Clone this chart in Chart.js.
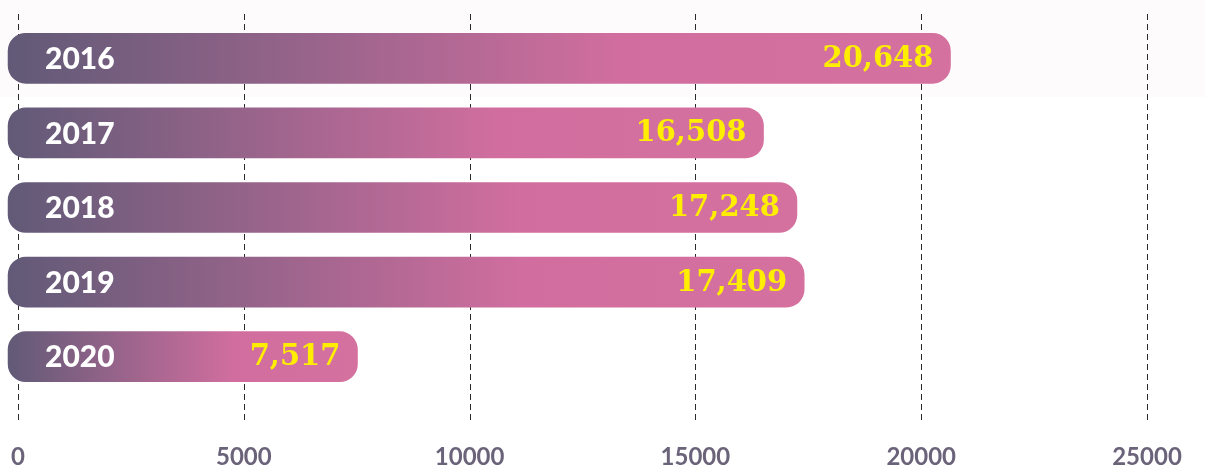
<!DOCTYPE html>
<html>
<head>
<meta charset="utf-8">
<script src="https://cdn.jsdelivr.net/npm/chart.js@4.4.1/dist/chart.umd.min.js"></script>
<style>
  html, body { margin: 0; padding: 0; background: #ffffff; }
  #wrap { width: 1205px; height: 470px; position: relative; }
</style>
</head>
<body>
<div id="wrap"><canvas id="c" width="1205" height="470"></canvas></div>
<script>
const categories = ['2016', '2017', '2018', '2019', '2020'];
const values = [20648, 16508, 17248, 17409, 7517];
const valueLabels = ['20,648', '16,508', '17,248', '17,409', '7,517'];
const tickValues = [0, 5000, 10000, 15000, 20000, 25000];

const BAR_BASE = -220;

function barGradient(c) {
  const chart = c.chart;
  const { ctx, chartArea } = chart;
  if (!chartArea) return '#a0668a';
  const xs = chart.scales.x;
  const x0 = xs.getPixelForValue(BAR_BASE);
  const x1 = xs.getPixelForValue(c.raw);
  const g = ctx.createLinearGradient(x0, 0, x1, 0);
  g.addColorStop(0, '#615a77');
  g.addColorStop(0.65, '#d16e9f');
  g.addColorStop(1, '#d5719f');
  return g;
}

const bandPlugin = {
  id: 'topBand',
  beforeDraw(chart) {
    const { ctx } = chart;
    ctx.save();
    ctx.fillStyle = '#fdfbfc';
    ctx.fillRect(0, 0, chart.width, 97);
    ctx.restore();
  }
};

const gridPlugin = {
  id: 'dashedGrid',
  beforeDatasetsDraw(chart) {
    const { ctx } = chart;
    const xs = chart.scales.x;
    ctx.save();
    ctx.strokeStyle = '#2b2b2b';
    ctx.lineWidth = 1;
    ctx.setLineDash([6, 4]);
    xs.ticks.forEach(t => {
      const px = Math.round(xs.getPixelForValue(t.value)) + 0.5;
      ctx.beginPath();
      ctx.moveTo(px, 14);
      ctx.lineTo(px, 424);
      ctx.stroke();
    });
    ctx.restore();
  }
};

const labelPlugin = {
  id: 'barLabels',
  afterDatasetsDraw(chart) {
    const { ctx } = chart;
    const meta = chart.getDatasetMeta(0);
    ctx.save();
    ctx.textBaseline = 'middle';
    meta.data.forEach((bar, i) => {
      const left = Math.min(bar.x, bar.base);
      const right = Math.max(bar.x, bar.base);
      ctx.fillStyle = '#ffffff';
      ctx.textAlign = 'left';
      ctx.font = '900 30px Lato';
      ctx.fillText(categories[i], left + 37, bar.y + 1);
      ctx.fillStyle = '#ffee00';
      ctx.textAlign = 'right';
      ctx.font = 'bold 29px "DejaVu Serif"';
      ctx.fillText(valueLabels[i], right - 17, bar.y + 1);
    });
    ctx.restore();
  }
};

new Chart(document.getElementById('c'), {
  type: 'bar',
  data: {
    labels: categories,
    datasets: [{
      data: values,
      base: BAR_BASE,
      backgroundColor: barGradient,
      borderRadius: 18,
      borderSkipped: false,
      barThickness: 50,
      clip: false
    }]
  },
  options: {
    indexAxis: 'y',
    responsive: false,
    animation: false,
    layout: { padding: { left: 18, right: 58, top: 21, bottom: 0 } },
    plugins: { legend: { display: false }, tooltip: { enabled: false } },
    scales: {
      x: {
        min: 0,
        max: 25000,
        afterBuildTicks(axis) { axis.ticks = tickValues.map(v => ({ value: v })); },
        afterFit(axis) { axis.height = 76; axis.paddingLeft = 0; axis.paddingRight = 0; },
        grid: { display: false, drawTicks: false },
        border: { display: false },
        ticks: {
          padding: 49,
          color: '#6a6379',
          font: { family: 'Lato', weight: 'bold', size: 24 },
          maxRotation: 0,
          autoSkip: false,
          callback: (v) => String(v)
        }
      },
      y: {
        display: false,
        offset: true
      }
    }
  },
  plugins: [bandPlugin, gridPlugin, labelPlugin]
});
</script>
</body>
</html>
